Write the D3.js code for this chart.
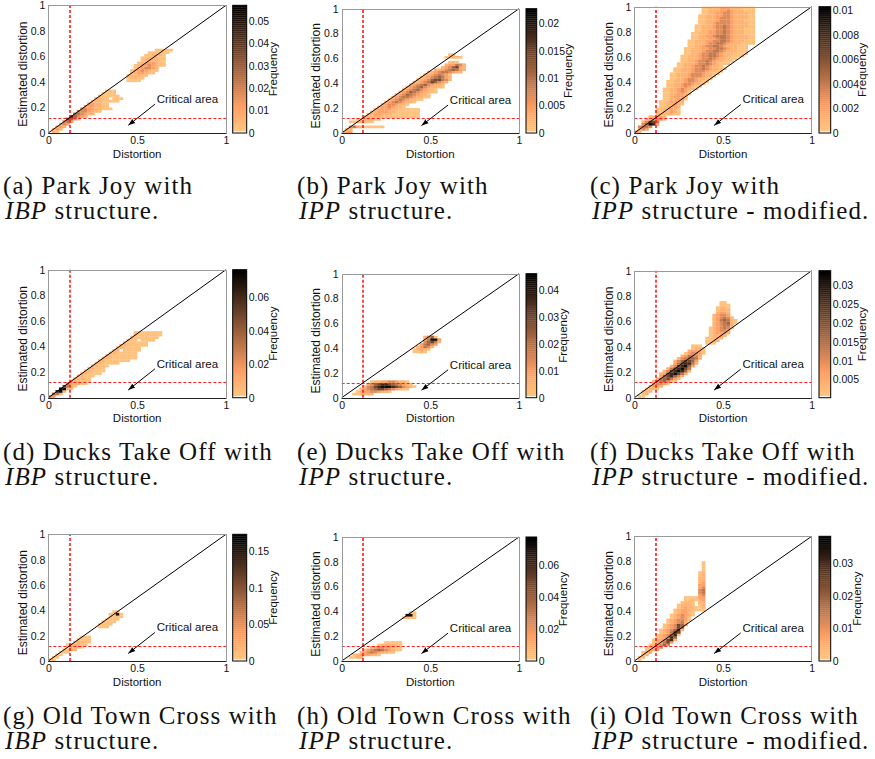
<!DOCTYPE html>
<html>
<head>
<meta charset="utf-8">
<script src="https://cdn.jsdelivr.net/npm/d3@7/dist/d3.min.js"></script>
<style>
  body { margin: 0; background: #fff; }
  svg text { font-family: "Liberation Sans", Arial, sans-serif; }
  .cap { font-family: "Liberation Serif", "Times New Roman", serif; font-size: 25px; letter-spacing: 1.1px; }
</style>
</head>
<body>
<div id="main"></div>
<script>
// histogram bin width (both axes) and the meaning of each level digit (fraction of colour range)
const BIN = 0.02;
const levelFrac = [0, 0.03, 0.1, 0.2, 0.3, 0.4, 0.5, 0.65, 0.8, 0.95];

// each row: [y bin, first x bin, levels of consecutive x bins (' ' = empty)]
const heatA = [
  [0,1,"21"],[1,1,"232"],[2,2,"232"],[3,3,"343"],[4,4,"453"],[5,5,"7642"],[6,6,"86432"],
  [7,7,"654322"],[8,8,"5443221"],[9,9,"443322111"],[10,10,"3332211"],[11,11,"332211"],
  [12,12,"22211111"],[13,13,"2211 111"],[14,14,"211111"],[15,15,"1111"],[16,16,"111"],
  [20,22,"1111"],[21,22,"12211"],[22,22,"122211"],[23,23,"1233211"],[24,23,"12343211"],
  [25,24,"1234432"],[26,24,"123343211"],[27,25,"12333211"],[28,26,"1222211"],
  [29,26,"1122211"],[30,27,"112221"],[31,28,"111111"],[32,30,"11111"]
];
const heatB = [
  [0,0,"233"],[1,1,"22"],[2,2,"4532111111"],[4,2,"1122111"],[5,4,"1122211"],
  [6,6,"2222211111111111"],[7,7,"223322211111111"],[8,8,"22333221111111"],[9,9,"2333322111111"],
  [10,10,"23343221"],[11,11,"23443221"],[12,12,"234543221"],[13,13,"2345432211"],
  [14,14,"23455432211"],[15,15,"2346543221"],[16,16,"23465432211"],[17,17,"2345643221"],
  [18,18,"23456432211"],[19,19,"2345643221"],[20,20,"2234576432"],[21,21,"2234677542"],
  [22,22,"223456532"],[23,23,"22345431"],[24,24,"2234554322"],[25,26,"223456532"],
  [26,28,"2346732"],[27,29,"233542"],[28,30,"121"],[30,29,"11221"],[31,30,"11"]
];
const heatC = [
  [0,0,"32"],[1,1,"343"],[2,1,"4554"],[3,2,"46983"],[4,2,"24775"],[5,3,"224442"],[6,4,"22332"],
  [7,6,"1122211"],[8,6,"1122321"],[9,6,"1122321"],[10,7,"112232"],[11,7,"1122321"],[12,7,"1123322"],
  [13,8,"1122331"],[14,8,"1123332"],[15,8,"11223321"],[16,8,"11223431"],[17,8,"1122343221"],
  [18,9,"1122343211"],[19,9,"11223443221"],[20,9,"112223443211"],[21,10,"112234432211"],
  [22,10,"1122234443221"],[23,10,"11222344432211"],[24,11,"11222344432211"],
  [25,11,"112223445432211"],[26,12,"1122344543221"],[27,12,"112223445432111"],
  [28,13,"112234454322111"],[29,13,"1122234454322111"],[30,13,"112223445543221111"],
  [31,14,"112234455432221111"],[32,14,"112223445543222111"],[33,14,"112223344554322111"],
  [34,15,"11223445543222111"],[35,15,"1122234455432221111"],[36,15,"1122233445543222111"],
  [37,16,"112223345543222211"],[38,16,"112233455543222211"],[39,16,"112223344543222111"],
  [40,17,"11223344543222111"],[41,17,"11222344543222111"],[42,17,"11222344543222211"],
  [43,18,"1122344443222211"],[44,18,"1122234443222111"],[45,18,"1122234443222211"],
  [46,18,"1122233443222211"],[47,19,"112233443222211"],[48,19,"112223343222111"],
  [49,19,"112223332221111"]
];
const heatD = [
  [0,0,"43"],[1,1,"652"],[2,2,"892"],[3,3,"9921"],[4,4,"7521"],[5,5,"532211"],[6,6,"322111"],
  [7,7,"22211"],[8,8,"22111"],[9,9,"221111"],[10,10,"221111"],[11,11,"22111"],[12,12,"22111"],
  [13,13,"2211111"],[14,14,"221111111"],[15,15,"2211111111"],[16,16,"221111111"],[17,17,"22111111"],
  [18,18,"22 11111"],[19,19,"2211111"],[20,20,"22111111"],[21,21,"2111111"],[22,22,"211 1111"],
  [23,23,"21111111"],[24,24,"21111111"],[25,24,"11111111"]
];
const heatE = [
  [1,3,"112222"],[2,4,"1233443221"],[3,5,"23456776543211"],[4,6,"245789998764321"],
  [5,7,"3467887654321"],[6,8,"12233443221"],
  [18,20,"1121"],[19,20,"12321"],[20,21,"23542"],[21,22,"35643"],[22,23,"46752"],[23,23,"35993"],[24,23,"2461"]
];
const heatF = [
  [0,1,"11"],[1,2,"12"],[2,2,"122"],[3,3,"1221"],[4,4,"2332"],[5,5,"34431"],[6,5,"2456421"],
  [7,6,"2567531"],[8,7,"3678642"],[9,7,"23789752"],[10,8,"24789862"],[11,9,"2578975"],
  [12,10,"2478963"],[13,11,"3578852"],[14,11,"2467763"],[15,12,"2456652"],[16,13,"235542"],
  [17,14,"134431"],[18,15,"23321"],[19,16,"1221"],[20,16,"111"],
  [21,20,"111"],[22,20,"1122"],[23,20,"11222"],[24,21,"12232"],[25,21,"123332"],[26,21,"123443"],
  [27,21,"1234541"],[28,22,"234552"],[29,22,"2345621"],[30,22,"2356521"],[31,22,"234542"],
  [32,22,"23443"],[33,23,"2332"],[34,23,"1222"],[35,23,"1221"],[36,24,"111"],[37,24,"11"]
];
const heatG = [
  [0,0,"11"],[1,1,"11"],[2,2,"11"],[3,3,"111"],[4,4,"1122"],[5,5,"12221"],[6,5,"122211"],
  [7,7,"12211"],[8,8,"1111"],[9,9,"111"],
  [13,14,"111"],[14,14,"1111"],[15,15,"1111"],[16,16,"1111"],[17,17,"1111"],[18,17,"1191"],[19,18,"11"]
];
const heatH = [
  [1,2,"1122"],[2,3,"12333221"],[3,5,"2345432211"],[4,6,"23456543211"],[5,8,"234433211"],
  [6,10,"1222211"],[7,12,"11111"],
  [17,17,"1211"],[18,18,"991"],[19,19,"21"]
];
const heatI = [
  [0,1,"1"],[1,1,"12"],[2,2,"12"],[3,2,"123"],[4,3,"1233"],[5,3,"12344"],[6,4,"123464"],
  [7,5,"123573"],[8,5,"1234782"],[9,6,"123486"],[10,6,"1234681"],[11,7,"123587"],[12,7,"1234682"],
  [13,8,"123476"],[14,8,"1234763"],[15,9,"123452"],[16,9,"1234431"],[17,10,"123431"],
  [18,10,"1234321"],[19,11,"123321"],[20,11,"1233211"],[21,12,"123221"],[22,12,"12221"],
  [23,13,"1221"],[24,14,"1121"],[25,14,"1111"],
  [20,18,"11"],[21,18,"12"],[22,18,"12"],[23,18,"22"],[24,18,"23"],[25,18,"33"],[26,18,"34"],
  [27,18,"45"],[28,18,"45"],[29,18,"34"],[30,18,"33"],[31,18,"23"],[32,18,"22"],[33,18,"22"],
  [34,18,"12"],[35,18,"12"],[36,19,"1"],[37,19,"1"],[38,19,"1"],[39,19,"1"]
];

// colour bar ranges and ticks
const cbarMin = [0, 0, 0, 0, 0, 0.0002, 0, 0, 0];
const cbarMax = [0.057, 0.0227, 0.0103, 0.0765, 0.0459, 0.0338, 0.1727, 0.0779, 0.0383];
const cbarTicks = [
  [0, 0.01, 0.02, 0.03, 0.04, 0.05],
  [0, 0.005, 0.01, 0.015, 0.02],
  [0, 0.002, 0.004, 0.006, 0.008, 0.01],
  [0, 0.02, 0.04, 0.06],
  [0, 0.01, 0.02, 0.03, 0.04],
  [0.005, 0.01, 0.015, 0.02, 0.025, 0.03],
  [0, 0.05, 0.1, 0.15],
  [0, 0.02, 0.04, 0.06],
  [0, 0.01, 0.02, 0.03]
];
const xTicks = [0, 0.5, 1];
const yTicks = [0, 0.2, 0.4, 0.6, 0.8, 1];
const threshold = 0.12;

// captions
const capLine1 = [
  "(a) Park Joy with", "(b) Park Joy with", "(c) Park Joy with",
  "(d) Ducks Take Off with", "(e) Ducks Take Off with", "(f) Ducks Take Off with",
  "(g) Old Town Cross with", "(h) Old Town Cross with", "(i) Old Town Cross with"
];
const capStruct = ["IBP", "IPP", "IPP", "IBP", "IPP", "IPP", "IBP", "IPP", "IPP"];
const capRest = [" structure.", " structure.", " structure - modified."];

const heatData = [heatA, heatB, heatC, heatD, heatE, heatF, heatG, heatH, heatI];

// ---- layout (pixels) ----
const W = 875, H = 759;
const colPos = [
  { l: 48.3, r: 226, cl: 232.7, cr: 246.7, cx: 3 },
  { l: 341.7, r: 519, cl: 526, cr: 536.7, cx: 297 },
  { l: 634.3, r: 811.7, cl: 819, cr: 830.7, cx: 590 }
];
const panelTop = [5.3, 8.7, 6.7, 269.7, 273.7, 270.7, 534.3, 537, 536.3];
const rowBottom = [133, 397.7, 661];
const capBase = [[193.5, 219], [459.5, 485], [723.5, 749]];

const svg = d3.select('#main').append('svg')
  .attr('width', W).attr('height', H)
  .style('display', 'block');

svg.append('defs').append('marker')
  .attr('id', 'arrow')
  .attr('viewBox', '0 0 10 10')
  .attr('refX', 10).attr('refY', 5)
  .attr('markerWidth', 7).attr('markerHeight', 7)
  .attr('markerUnits', 'userSpaceOnUse')
  .attr('orient', 'auto')
  .append('path').attr('d', 'M0,1.5 L10,5 L0,8.5 Z').attr('fill', '#000');

// MATLAB copper, flipped so large values are dark
const copper = t => d3.rgb(255 * Math.min(1, 1.25 * t), 255 * 0.7812 * t, 255 * 0.4975 * t);
const snap = v => Math.round(v) + 0.5;

function drawPanel(i) {
  const col = i % 3, row = Math.floor(i / 3);
  const P = colPos[col];
  const top = panelTop[i], bottom = rowBottom[row];
  const lo = cbarMin[i], hi = cbarMax[i];

  const x = d3.scaleLinear().domain([0, 1]).range([P.l, P.r]);
  const y = d3.scaleLinear().domain([0, 1]).range([bottom, top]);
  const t = d3.scaleLinear().domain([lo, hi]).range([1, 0]).clamp(true);

  const g = svg.append('g');

  const cells = [];
  heatData[i].forEach(([j, c0, s]) => {
    for (let k = 0; k < s.length; k++) {
      if (s[k] === ' ') continue;
      cells.push({ j: j, c: c0 + k, v: lo + levelFrac[+s[k]] * (hi - lo) });
    }
  });

  g.selectAll('rect.cell').data(cells).join('rect')
    .attr('class', 'cell')
    .attr('x', d => x(d.c * BIN))
    .attr('y', d => y((d.j + 1) * BIN))
    .attr('width', x(BIN) - x(0) + 0.2)
    .attr('height', y(0) - y(BIN) + 0.2)
    .attr('fill', d => copper(t(d.v)));

  // critical thresholds
  g.append('line')
    .attr('x1', Math.round(x(threshold))).attr('x2', Math.round(x(threshold)))
    .attr('y1', y(0)).attr('y2', y(1))
    .attr('stroke', '#ff1a1a').attr('stroke-width', 1.6).attr('stroke-dasharray', '3,2');
  g.append('line')
    .attr('x1', x(0)).attr('x2', x(1))
    .attr('y1', snap(y(threshold))).attr('y2', snap(y(threshold)))
    .attr('stroke', '#ff2020').attr('stroke-width', 1).attr('stroke-dasharray', '3,2');

  // identity line
  g.append('line')
    .attr('x1', x(0)).attr('y1', y(0)).attr('x2', x(1)).attr('y2', y(1))
    .attr('stroke', '#000').attr('stroke-width', 1);

  // box
  g.append('rect')
    .attr('x', snap(x(0))).attr('y', snap(y(1)))
    .attr('width', Math.round(x(1) - x(0))).attr('height', Math.round(y(0) - y(1)))
    .attr('fill', 'none').attr('stroke', '#999').attr('stroke-width', 1);
  g.append('line')
    .attr('x1', x(0)).attr('x2', x(1)).attr('y1', snap(y(0))).attr('y2', snap(y(0)))
    .attr('stroke', '#222');

  // axes
  const xa = g.append('g')
    .attr('transform', 'translate(0,' + y(0) + ')')
    .call(d3.axisBottom(x).tickValues(xTicks).tickFormat(d3.format('')).tickSize(0).tickPadding(4));
  const ya = g.append('g')
    .attr('transform', 'translate(' + x(0) + ',0)')
    .call(d3.axisLeft(y).tickValues(yTicks).tickFormat(d3.format('')).tickSize(0).tickPadding(3));
  [xa, ya].forEach(a => {
    a.select('.domain').remove();
    a.selectAll('text').attr('font-size', 10.5).attr('fill', '#111').style('font-family', '"Liberation Sans", Arial, sans-serif');
  });

  g.append('text')
    .attr('x', (x(0) + x(1)) / 2).attr('y', y(0) + 24.5)
    .attr('text-anchor', 'middle').attr('font-size', 11.5).attr('fill', '#111')
    .text('Distortion');
  g.append('text')
    .attr('transform', 'translate(' + (x(0) - 21.5) + ',' + ((y(0) + y(1)) / 2 + 5) + ') rotate(-90)')
    .attr('text-anchor', 'middle').attr('font-size', 12).attr('fill', '#111')
    .text('Estimated distortion');

  // annotation
  g.append('text')
    .attr('x', x(0.61)).attr('y', y(0.267) + 4)
    .attr('font-size', 11.5).attr('fill', '#111')
    .text('Critical area');
  g.append('line')
    .attr('x1', x(0.60)).attr('y1', y(0.225))
    .attr('x2', x(0.45)).attr('y2', y(0.06))
    .attr('stroke', '#000').attr('stroke-width', 1)
    .attr('marker-end', 'url(#arrow)');

  // colour bar
  const yc = d3.scaleLinear().domain([lo, hi]).range([bottom, top]);
  const steps = d3.range(64);
  const sh = (bottom - top) / 64;
  g.selectAll('rect.cb').data(steps).join('rect')
    .attr('class', 'cb')
    .attr('x', P.cl).attr('width', P.cr - P.cl)
    .attr('y', k => bottom - (k + 1) * sh).attr('height', sh + 0.3)
    .attr('fill', k => k === 0 ? '#fff' : copper(1 - k / 63));
  g.append('rect')
    .attr('x', P.cl).attr('y', top).attr('width', P.cr - P.cl).attr('height', bottom - top)
    .attr('fill', 'none').attr('stroke', '#000').attr('stroke-width', 1);
  const ca = g.append('g')
    .attr('transform', 'translate(' + P.cr + ',0)')
    .call(d3.axisRight(yc).tickValues(cbarTicks[i]).tickFormat(d3.format('')).tickSize(0).tickPadding(2));
  ca.select('.domain').remove();
  ca.selectAll('text').attr('font-size', 10.5).attr('fill', '#111').style('font-family', '"Liberation Sans", Arial, sans-serif');
  let maxW = 0;
  ca.selectAll('text').each(function () { maxW = Math.max(maxW, this.getComputedTextLength()); });
  g.append('text')
    .attr('transform', 'translate(' + (P.cr + 2 + maxW + 7.5) + ',' + (top + bottom) / 2 + ') rotate(-90)')
    .attr('text-anchor', 'middle').attr('font-size', 11.5).attr('fill', '#111')
    .text('Frequency');

  // caption
  const cap = svg.append('g');
  cap.append('text').attr('class', 'cap')
    .attr('x', P.cx).attr('y', capBase[row][0]).attr('fill', '#111')
    .text(capLine1[i]);
  const l2 = cap.append('text').attr('class', 'cap')
    .attr('x', P.cx + 2).attr('y', capBase[row][1]).attr('fill', '#111');
  l2.append('tspan').style('font-style', 'italic').text(capStruct[i]);
  l2.append('tspan').text(capRest[col]);
}

d3.range(9).forEach(drawPanel);
</script>
</body>
</html>
